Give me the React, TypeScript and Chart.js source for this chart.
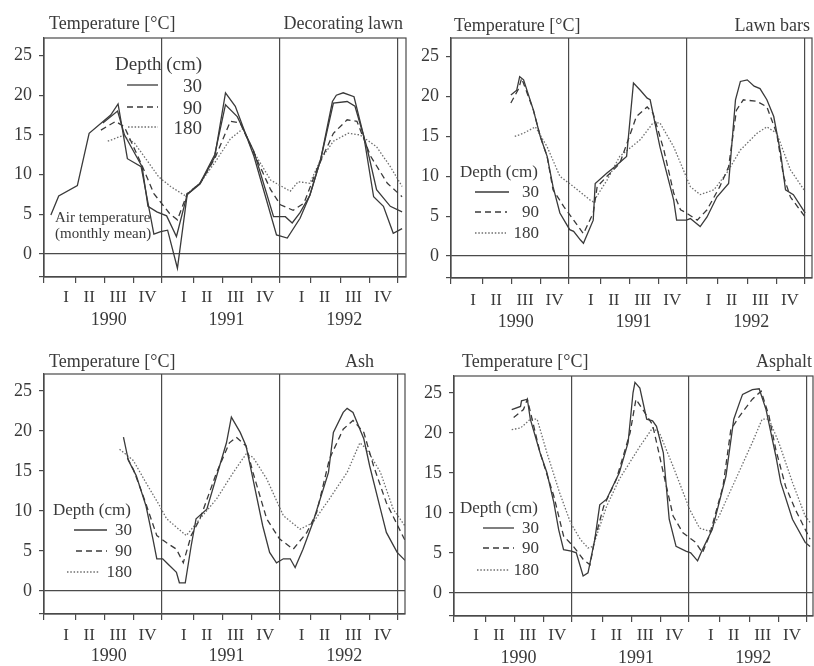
import React, { useEffect, useRef } from 'react';
import { Chart, registerables } from 'chart.js';

Chart.register(...registerables);

type Pt = [number, number];

const FONT = "'Liberation Serif', 'DejaVu Serif', serif";
const INK = '#3a3a3a';
const DOT = '#6e6e6e';
const AXIS = '#4a4a4a';

// Axis labels
const QUARTER_LABELS = ['I', 'II', 'III', 'IV'];
const YEARS = ['1990', '1991', '1992'];
const Y_TICKS = [0, 5, 10, 15, 20, 25];
const QUARTER_STARTS = [0, 3.2, 6.2, 9.15];
const QUARTER_LABEL_POS = [2.25, 4.6, 7.55, 10.55];
const YEAR_LABEL_POS = 6.6;
const YEAR_BOUNDS = [0, 12, 24, 36];

// x = months since 1 Jan 1990, y = temperature [°C]
// ---- Decorating lawn ----
const lawnAir: Pt[] = [[0.7,4.9],[1.5,7.3],[3.4,8.6],[4.6,15.2],[6.8,17.5],[7.55,18.9],[8.5,12.0],[9.9,11.0],[11.2,2.5],[11.9,2.8],[12.6,3.0],[13.6,-1.8],[14.6,7.5],[15.9,8.8],[17.4,12.2],[18.5,20.3],[19.5,18.6],[21.4,12.3],[23.7,2.4],[24.8,2.0],[26.1,4.5],[27.1,7.4],[28.2,11.9],[29.4,19.2],[29.8,20.0],[30.5,20.3],[31.6,19.8],[32.6,14.8],[33.6,7.2],[34.6,6.0],[35.6,2.6],[36.5,3.2]];
const lawn30: Pt[] = [[6.0,16.5],[7.5,18.0],[8.2,15.0],[9.1,13.0],[10.0,11.0],[10.6,6.0],[11.5,5.3],[12.5,4.8],[13.5,2.2],[14.6,7.5],[15.9,8.9],[17.4,12.5],[18.5,18.8],[19.7,17.3],[21.4,12.9],[23.4,4.7],[24.6,4.7],[25.3,3.9],[26.1,5.2],[27.1,7.4],[28.2,11.9],[29.5,19.0],[30.9,19.2],[31.7,18.6],[32.9,13.5],[33.9,8.1],[35.3,6.0],[36.5,5.3]];
const lawn90: Pt[] = [[5.8,15.6],[7.3,16.7],[8.2,16.0],[9.9,11.4],[11.2,7.6],[12.8,5.1],[13.6,4.3],[14.6,7.6],[15.9,8.9],[17.4,12.0],[19.0,16.7],[20.0,16.5],[21.4,12.7],[23.1,8.1],[24.1,6.2],[25.4,5.5],[26.5,6.4],[27.8,10.6],[29.5,15.2],[30.9,16.9],[31.9,16.7],[33.3,12.3],[35.0,8.9],[36.5,7.2]];
const lawn180: Pt[] = [[6.5,14.2],[8.0,14.9],[9.2,14.0],[10.2,12.3],[11.7,9.7],[12.9,8.5],[14.3,7.4],[14.8,7.8],[15.9,8.9],[17.4,11.5],[19.0,14.5],[20.3,15.8],[21.4,12.8],[23.1,9.3],[25.1,7.9],[25.9,9.1],[27.1,8.9],[28.2,11.9],[29.5,14.2],[31.0,15.2],[32.2,15.0],[33.9,13.5],[35.3,11.0],[36.5,8.5]];

// ---- Lawn bars ----
const bars30: Pt[] = [[6.1,20.2],[6.7,20.8],[7.0,22.5],[7.4,22.1],[8.4,18.3],[9.1,15.0],[9.8,12.5],[10.4,8.7],[11.1,5.4],[12.1,3.3],[12.5,3.1],[13.2,2.0],[13.5,1.6],[14.5,4.5],[14.7,9.1],[15.9,10.4],[16.7,11.2],[17.9,12.5],[18.6,21.7],[19.3,20.8],[20.0,19.8],[20.3,19.6],[21.3,13.7],[22.7,7.0],[23.0,4.5],[24.0,4.5],[24.4,4.7],[25.4,3.7],[26.1,4.9],[27.1,7.4],[28.3,9.1],[29.0,19.6],[29.5,21.9],[30.2,22.1],[30.9,21.3],[31.5,21.0],[32.2,19.6],[32.9,17.5],[33.6,12.9],[34.1,8.3],[34.9,7.7],[36.1,5.4]];
const bars90: Pt[] = [[6.1,19.2],[6.9,21.0],[7.2,22.3],[8.4,18.3],[9.1,15.0],[9.8,12.5],[10.4,8.3],[11.5,6.2],[12.5,4.5],[13.5,2.8],[14.5,5.4],[14.9,8.7],[15.9,10.0],[17.2,11.6],[18.3,15.4],[18.9,17.5],[20.0,18.7],[20.6,17.9],[21.7,13.3],[22.7,7.9],[23.4,5.8],[24.0,5.4],[25.1,4.5],[26.1,5.8],[27.4,8.7],[28.3,11.2],[29.1,18.3],[29.8,19.6],[31.2,19.4],[32.2,18.7],[33.2,15.4],[33.9,10.0],[34.6,7.4],[36.1,4.9]];
const bars180: Pt[] = [[6.5,15.0],[7.4,15.4],[8.6,16.2],[9.8,13.7],[11.1,10.0],[12.5,8.7],[14.2,7.0],[14.5,6.8],[15.9,9.5],[17.2,12.5],[19.3,14.6],[20.6,16.7],[21.3,16.7],[22.7,13.7],[24.4,8.7],[25.4,7.7],[26.8,8.3],[28.1,10.4],[29.5,13.3],[31.2,15.4],[32.2,16.2],[33.2,15.4],[34.6,10.8],[36.1,8.1]];

// ---- Ash ----
const ash30: Pt[] = [[8.1,19.2],[8.6,16.3],[9.4,14.4],[10.4,10.6],[11.1,6.5],[11.5,4.0],[12.1,4.0],[12.5,3.5],[13.5,2.3],[13.8,1.0],[14.4,1.0],[15.0,5.6],[15.5,9.0],[16.6,10.2],[17.9,15.6],[18.6,18.5],[19.1,21.7],[20.0,19.8],[20.6,18.1],[21.3,14.0],[22.3,8.1],[23.0,4.8],[23.7,3.5],[24.4,4.0],[25.1,4.0],[25.6,2.9],[26.4,5.2],[27.4,8.5],[29.0,14.8],[29.5,19.8],[30.5,22.3],[30.9,22.8],[31.5,22.3],[32.6,19.0],[33.2,15.6],[34.3,10.2],[34.9,7.3],[36.0,4.8],[36.8,3.8]];
const ash90: Pt[] = [[8.5,16.6],[9.1,15.2],[10.1,11.9],[11.5,6.9],[12.5,6.0],[13.5,5.2],[14.2,3.5],[15.0,6.9],[15.9,9.0],[17.6,14.8],[18.9,18.5],[19.6,19.2],[20.6,18.1],[21.3,14.8],[22.7,9.0],[24.0,6.5],[25.4,5.2],[26.8,7.3],[27.8,9.8],[29.1,16.5],[30.5,20.2],[31.5,21.3],[32.6,19.8],[33.6,15.6],[34.9,11.0],[36.8,6.3]];
const ash180: Pt[] = [[7.7,17.7],[9.1,16.3],[10.4,13.5],[11.8,10.6],[12.5,9.0],[14.5,6.9],[15.9,9.0],[17.6,11.5],[19.3,14.8],[20.6,17.1],[21.3,16.7],[22.7,14.0],[24.4,9.4],[26.1,7.7],[27.4,8.5],[29.1,11.5],[30.9,14.8],[32.2,18.5],[32.9,17.7],[34.3,14.8],[35.6,10.2],[36.8,8.1]];

// ---- Asphalt ----
const asph30: Pt[] = [[5.9,22.9],[6.8,23.3],[6.9,24.0],[7.5,24.2],[7.8,21.7],[8.8,17.5],[9.5,15.0],[10.2,11.3],[10.7,7.9],[11.2,5.4],[12.0,5.2],[12.5,5.0],[13.2,2.1],[13.7,2.5],[14.4,6.7],[14.9,11.0],[15.6,11.7],[16.9,15.0],[17.8,18.8],[18.3,25.0],[18.5,26.3],[19.0,25.6],[19.7,21.7],[20.3,21.5],[20.7,20.8],[21.4,17.5],[22.0,9.2],[22.7,5.8],[23.7,5.2],[24.2,5.0],[24.9,4.0],[25.4,5.4],[26.4,7.9],[27.8,14.6],[28.6,21.7],[29.2,23.8],[29.5,24.8],[30.5,25.4],[31.2,25.5],[31.9,22.9],[32.9,17.1],[33.4,13.8],[34.6,9.2],[35.9,6.3],[36.4,5.8]];
const asph90: Pt[] = [[6.1,21.9],[7.1,22.9],[7.5,24.2],[8.8,17.5],[10.2,12.1],[11.2,7.1],[12.2,5.8],[13.2,4.2],[13.9,3.5],[14.4,6.7],[15.3,10.8],[16.6,14.2],[18.0,20.0],[18.6,24.2],[19.3,22.9],[20.3,21.0],[21.4,15.0],[22.4,9.6],[23.4,7.5],[24.7,6.3],[25.4,5.0],[26.1,7.1],[27.5,13.3],[28.3,20.4],[29.2,22.1],[30.5,24.2],[31.4,25.2],[32.2,22.1],[32.9,17.9],[33.9,13.3],[34.9,10.4],[36.4,6.7]];
const asph180: Pt[] = [[5.9,20.4],[6.8,20.6],[7.8,21.7],[8.5,21.7],[9.5,17.5],[10.8,12.5],[11.9,8.8],[12.9,6.7],[13.7,5.6],[14.2,5.8],[15.6,10.8],[16.9,14.2],[19.0,18.3],[20.3,20.6],[21.0,20.0],[22.4,15.8],[24.1,10.4],[25.1,8.1],[26.1,7.7],[27.1,9.6],[28.8,14.2],[30.5,18.8],[31.5,21.7],[32.2,21.7],[33.2,18.8],[34.6,13.8],[35.9,9.6],[36.4,8.8]];

const SOLID = { color: INK, dash: [] as number[], width: 1.3 };
const DASHED = { color: INK, dash: [6, 4], width: 1.3 };
const DOTTED = { color: DOT, dash: [1.5, 1.8], width: 1.3 };

interface Spec {
  left: number; top: number;
  area: { left: number; top: number; right: number; bottom: number };
  xMax: number; yMin: number; yMax: number;
  qPad: number; yrPad: number;
  series: { data: Pt[]; style: typeof SOLID }[];
}

const W = 407, H = 333;

const SPECS: Spec[] = [
  { left: 0, top: 0, area: { left: 44, top: 38, right: 406, bottom: 277 }, xMax: 36.9, yMin: -2.9, yMax: 27.2, qPad: 4, yrPad: 3,
    series: [{ data: lawnAir, style: SOLID }, { data: lawn30, style: SOLID }, { data: lawn90, style: DASHED }, { data: lawn180, style: DOTTED }] },
  { left: 407, top: 0, area: { left: 44, top: 38, right: 405, bottom: 278 }, xMax: 36.8, yMin: -2.76, yMax: 27.35, qPad: 6, yrPad: 4,
    series: [{ data: bars30, style: SOLID }, { data: bars90, style: DASHED }, { data: bars180, style: DOTTED }] },
  { left: 0, top: 333, area: { left: 44, top: 41, right: 405, bottom: 281 }, xMax: 36.8, yMin: -2.9, yMax: 27.1, qPad: 5, yrPad: 2,
    series: [{ data: ash30, style: SOLID }, { data: ash90, style: DASHED }, { data: ash180, style: DOTTED }] },
  { left: 407, top: 333, area: { left: 47, top: 43, right: 406, bottom: 283 }, xMax: 36.7, yMin: -2.9, yMax: 27.1, qPad: 3, yrPad: 2,
    series: [{ data: asph30, style: SOLID }, { data: asph90, style: DASHED }, { data: asph180, style: DOTTED }] },
];

const framePlugin = {
  id: 'frame',
  afterDatasetsDraw(chart: any) {
    const { ctx, chartArea: a } = chart;
    ctx.save();
    ctx.strokeStyle = AXIS;
    ctx.lineWidth = 1.2;
    ctx.strokeRect(a.left, a.top, a.right - a.left, a.bottom - a.top);
    ctx.restore();
  },
};

function buildConfig(spec: Spec): any {
  const quarterTicks: number[] = [];
  const labelTicks: number[] = [];
  const yearTicks: number[] = [];
  for (let y = 0; y < 3; y++) {
    QUARTER_STARTS.forEach((q) => quarterTicks.push(12 * y + q));
    QUARTER_LABEL_POS.forEach((q) => labelTicks.push(12 * y + q));
    yearTicks.push(12 * y + YEAR_LABEL_POS);
  }
  quarterTicks.push(36);
  const hx = 6, hq = 23;
  const hy = H - spec.area.bottom - hx - hq;
  const transparent = 'rgba(0,0,0,0)';
  return {
    type: 'line',
    data: {
      datasets: spec.series.map((s) => ({
        data: s.data.map(([x, y]) => ({ x, y })),
        borderColor: s.style.color,
        borderDash: s.style.dash,
        borderWidth: s.style.width,
        pointRadius: 0,
        tension: 0,
        fill: false,
      })),
    },
    options: {
      responsive: false,
      animation: false,
      events: [],
      layout: { padding: { left: 0, top: spec.area.top, right: W - spec.area.right, bottom: 0 } },
      plugins: { legend: { display: false }, tooltip: { enabled: false }, title: { display: false } },
      scales: {
        x: {
          type: 'linear', position: 'bottom', min: 0, max: spec.xMax, weight: 0,
          afterBuildTicks: (s: any) => { s.ticks = quarterTicks.map((v) => ({ value: v })); },
          afterFit: (s: any) => { s.height = hx; },
          ticks: { display: false },
          grid: {
            color: (c: any) => (c.tick && YEAR_BOUNDS.includes(c.tick.value) && c.tick.value > 0 ? AXIS : transparent),
            tickColor: AXIS, tickLength: hx, lineWidth: 1.2,
          },
          border: { display: true, color: AXIS, width: 1.2 },
        },
        xq: {
          type: 'linear', position: 'bottom', min: 0, max: spec.xMax, weight: 1,
          afterBuildTicks: (s: any) => { s.ticks = labelTicks.map((v) => ({ value: v })); },
          afterFit: (s: any) => { s.height = hq; },
          ticks: {
            autoSkip: false, maxRotation: 0, padding: spec.qPad, color: INK,
            font: { family: FONT, size: 17 },
            callback: (_v: any, i: number) => QUARTER_LABELS[i % 4],
          },
          grid: { display: false, drawTicks: false },
          border: { display: false },
        },
        xy: {
          type: 'linear', position: 'bottom', min: 0, max: spec.xMax, weight: 2,
          afterBuildTicks: (s: any) => { s.ticks = yearTicks.map((v) => ({ value: v })); },
          afterFit: (s: any) => { s.height = hy; },
          ticks: {
            autoSkip: false, maxRotation: 0, padding: spec.yrPad, color: INK,
            font: { family: FONT, size: 18 },
            callback: (_v: any, i: number) => YEARS[i],
          },
          grid: { display: false, drawTicks: false },
          border: { display: false },
        },
        y: {
          type: 'linear', position: 'left', min: spec.yMin, max: spec.yMax,
          afterBuildTicks: (s: any) => { s.ticks = [spec.yMin, ...Y_TICKS].map((v) => ({ value: v })); },
          afterFit: (s: any) => { s.width = spec.area.left; },
          ticks: {
            padding: 7, color: INK,
            font: { family: FONT, size: 18 },
            callback: (v: any) => (Y_TICKS.includes(v) ? String(v) : ''),
          },
          grid: {
            color: (c: any) => (c.tick && c.tick.value === 0 ? AXIS : transparent),
            tickColor: AXIS, tickLength: 5, lineWidth: 1.2,
          },
          border: { display: true, color: AXIS, width: 1.2 },
        },
      },
    },
    plugins: [framePlugin],
  };
}

function Panel({ spec }: { spec: Spec }) {
  const ref = useRef<HTMLCanvasElement>(null);
  useEffect(() => {
    const chart = new Chart(ref.current as HTMLCanvasElement, buildConfig(spec));
    return () => chart.destroy();
  }, [spec]);
  return (
    <canvas
      ref={ref}
      width={W}
      height={H}
      style={{ position: 'absolute', left: spec.left, top: spec.top, width: W, height: H }}
    />
  );
}

function Txt(props: { x: number; y: number; size: number; children: React.ReactNode; align?: 'left' | 'right' }) {
  const { x, y, size, align = 'left' } = props;
  const lh = Math.round(size * 1.2);
  const style: React.CSSProperties = {
    position: 'absolute', top: y - lh / 2, lineHeight: lh + 'px', fontSize: size, fontFamily: FONT,
    color: INK, whiteSpace: 'nowrap',
  };
  if (align === 'left') style.left = x; else { style.right = 814 - x; style.textAlign = 'right'; }
  return <div style={style}>{props.children}</div>;
}

interface LegendSpec {
  titleX: number; titleY: number; size: number; numRight: number;
  rows: { y: number; x1: number; x2: number; label: string; style: typeof SOLID }[];
}

const LEGENDS: LegendSpec[] = [
  { titleX: 115, titleY: 63, size: 19, numRight: 202, rows: [
    { y: 85, x1: 127, x2: 158, label: '30', style: SOLID },
    { y: 107, x1: 127, x2: 158, label: '90', style: DASHED },
    { y: 127, x1: 128, x2: 158, label: '180', style: DOTTED }] },
  { titleX: 460, titleY: 172, size: 17, numRight: 539, rows: [
    { y: 192, x1: 475, x2: 509, label: '30', style: SOLID },
    { y: 212, x1: 475, x2: 507, label: '90', style: DASHED },
    { y: 233, x1: 475, x2: 506, label: '180', style: DOTTED }] },
  { titleX: 53, titleY: 510, size: 17, numRight: 132, rows: [
    { y: 530, x1: 74, x2: 107, label: '30', style: SOLID },
    { y: 551, x1: 76, x2: 107, label: '90', style: DASHED },
    { y: 572, x1: 67, x2: 99, label: '180', style: DOTTED }] },
  { titleX: 460, titleY: 508, size: 17, numRight: 539, rows: [
    { y: 528, x1: 483, x2: 514, label: '30', style: SOLID },
    { y: 548, x1: 483, x2: 514, label: '90', style: DASHED },
    { y: 570, x1: 477, x2: 510, label: '180', style: DOTTED }] },
];

const TITLES = [
  { left: 49, y: 23, name: 'Decorating lawn', right: 403 },
  { left: 454, y: 25, name: 'Lawn bars', right: 810 },
  { left: 49, y: 361, name: 'Ash', right: 374 },
  { left: 462, y: 361, name: 'Asphalt', right: 812 },
];

export default function App() {
  return (
    <div style={{ position: 'absolute', left: 0, top: 0, width: 814, height: 666, background: '#fff', overflow: 'hidden' }}>
      {SPECS.map((s, i) => <Panel key={i} spec={s} />)}
      {TITLES.map((t, i) => (
        <React.Fragment key={i}>
          <Txt x={t.left} y={t.y} size={18}>Temperature [°C]</Txt>
          <Txt x={t.right} y={t.y} size={18} align="right">{t.name}</Txt>
        </React.Fragment>
      ))}
      <svg width={814} height={666} style={{ position: 'absolute', left: 0, top: 0, pointerEvents: 'none' }}>
        {LEGENDS.flatMap((l, i) => l.rows.map((r, j) => (
          <line key={i + '-' + j} x1={r.x1} x2={r.x2} y1={r.y} y2={r.y}
            stroke={r.style.color} strokeWidth={r.style.width}
            strokeDasharray={r.style.dash.length ? r.style.dash.join(' ') : undefined} />
        )))}
      </svg>
      {LEGENDS.map((l, i) => (
        <React.Fragment key={i}>
          <Txt x={l.titleX} y={l.titleY} size={l.size}>Depth (cm)</Txt>
          {l.rows.map((r, j) => <Txt key={j} x={l.numRight} y={r.y} size={l.size} align="right">{r.label}</Txt>)}
        </React.Fragment>
      ))}
      <Txt x={55} y={217} size={15}>Air temperature</Txt>
      <Txt x={55} y={233} size={15}>(monthly mean)</Txt>
    </div>
  );
}
